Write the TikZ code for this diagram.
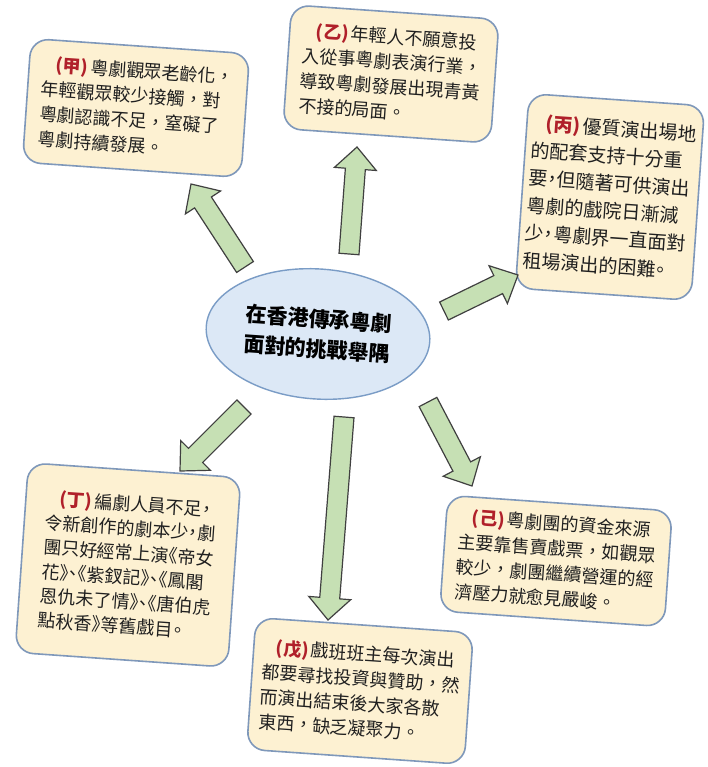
\documentclass[tikz,border=0pt]{standalone}
\usepackage{fontspec}
\setmainfont{Noto Sans CJK TC}
\newfontfamily\halffont[RawFeature=+halt]{Noto Sans CJK TC}
\usetikzlibrary{calc,shapes.geometric}
\definecolor{boxfill}{HTML}{FDF1D2}
\definecolor{boxline}{HTML}{7F98BA}
\definecolor{ellfill}{HTML}{DCE8F6}
\definecolor{ellline}{HTML}{7A9CC6}
\definecolor{arrfill}{HTML}{C6E0B4}
\definecolor{arrline}{HTML}{404040}
\definecolor{labred}{HTML}{B0202A}
\definecolor{txt}{HTML}{202020}
\newcommand\lab[1]{\hspace*{0.7em}{\color{labred}\bfseries(#1)}\hspace{0.15em}}
\tikzset{
  box/.style={draw=boxline, line width=1.6pt, fill=boxfill, rounded corners=18pt,
    align=left, text=txt, inner sep=0pt, font=\fontsize{18}{25}\selectfont},
  arrowbody/.style={draw=arrline, line width=1.2pt, fill=arrfill, line join=miter},
  hub/.style={draw=ellline, line width=1.4pt, fill=ellfill, ellipse, align=center,
    text=black, font=\fontsize{21}{30}\selectfont\bfseries}
}
\newcommand\blockarrow[2]{%
  \coordinate (#2-h) at ($(#2)!22pt!(#1)$);
  \draw[arrowbody] ($(#1)!10pt!90:(#2)$) -- ($(#2-h)!10pt!90:(#2)$) -- ($(#2-h)!21pt!90:(#2)$)
    -- (#2) -- ($(#2-h)!21pt!-90:(#2)$) -- ($(#2-h)!10pt!-90:(#2)$) -- ($(#1)!10pt!-90:(#2)$) -- cycle;}
\begin{document}
\begin{tikzpicture}[x=1pt,y=-1pt]
\useasboundingbox[fill=white] (0,0) rectangle (708,767);

\node[hub, minimum width=224pt, minimum height=130pt, rotate=-4] (hub) at (318,334)
  {在香港傳承粵劇\\面對的挑戰舉隅};

\node[box, minimum width=219pt, minimum height=124pt, rotate=-4] (jia) at (136,108)
  {\lab{甲}粵劇觀眾老齡化，\\年輕觀眾較少接觸，對\\粵劇認識不足，窒礙了\\粵劇持續發展。};

\node[box, minimum width=208pt, minimum height=124pt, rotate=-4] (yi) at (391,74)
  {\lab{乙}年輕人不願意投\\入從事粵劇表演行業，\\導致粵劇發展出現青黃\\不接的局面。};

\node[box, minimum width=176pt, minimum height=195pt, rotate=-4,
      font=\fontsize{19}{27.5}\selectfont\halffont] (bing) at (610,197)
  {\lab{丙}優質演出場地\\的配套支持十分重\\要，但隨著可供演出\\粵劇的戲院日漸減\\少，粵劇界一直面對\\租場演出的困難。};

\node[box, minimum width=213pt, minimum height=190pt, rotate=-4,
      font=\fontsize{18}{24.5}\selectfont\halffont] (ding) at (128,565)
  {\lab{丁}編劇人員不足，\\令新創作的劇本少，劇\\團只好經常上演《帝女\\花》、《紫釵記》、《鳳閣\\恩仇未了情》、《唐伯虎\\點秋香》等舊戲目。};

\node[box, minimum width=225pt, minimum height=116pt, rotate=-4] (ji) at (556,561)
  {\lab{己}粵劇團的資金來源\\主要靠售賣戲票，如觀眾\\較少，劇團繼續營運的經\\濟壓力就愈見嚴峻。};

\node[box, minimum width=218pt, minimum height=132pt, rotate=-4] (wu) at (360,691)
  {\lab{戊}戲班班主每次演出\\都要尋找投資與贊助，然\\而演出結束後大家各散\\東西，缺乏凝聚力。};

\coordinate (a1t) at (245,267); \coordinate (a1) at (191,184);
\coordinate (a2t) at (349,254); \coordinate (a2) at (357,147);
\coordinate (a3t) at (444,311); \coordinate (a3) at (518,275);
\coordinate (a4t) at (244,407); \coordinate (a4) at (180,471);
\coordinate (a5t) at (344,417); \coordinate (a5) at (328,620);
\coordinate (a6t) at (428,402); \coordinate (a6) at (472,486);
\blockarrow{a1t}{a1}
\blockarrow{a2t}{a2}
\blockarrow{a3t}{a3}
\blockarrow{a4t}{a4}
\blockarrow{a5t}{a5}
\blockarrow{a6t}{a6}
\end{tikzpicture}
\end{document}
